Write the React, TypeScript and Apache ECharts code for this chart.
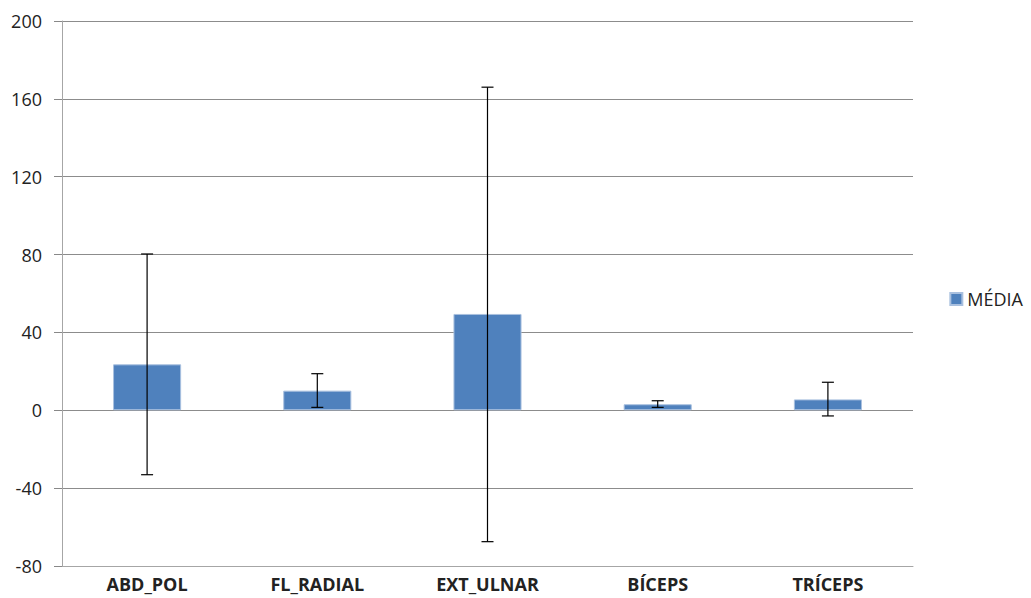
import React, { useEffect, useRef } from "react";
import * as echarts from "echarts";

const categories = ["ABD_POL", "FL_RADIAL", "EXT_ULNAR", "BÍCEPS", "TRÍCEPS"];
const means = [23.6, 10.1, 49.5, 3.1, 5.6];
const errLow = [-33.1, 1.5, -67.5, 1.5, -2.9];
const errHigh = [80.3, 18.8, 166, 4.9, 14.4];
const yTicks = { min: -80, max: 200, interval: 40 };

export default function App() {
  const ref = useRef<HTMLDivElement>(null);
  useEffect(() => {
    document.body.style.margin = "0";
    const chart = echarts.init(ref.current!, null, { renderer: "svg" });
    const errData = categories.map((_, i) => [i, errLow[i], errHigh[i]]);
    chart.setOption({
      animation: false,
      grid: { left: 62, right: 118, top: 21, bottom: 32, containLabel: false },
      legend: {
        right: 3,
        top: "middle",
        orient: "vertical",
        icon: "rect",
        itemWidth: 12,
        itemHeight: 12,
        itemGap: 6,
        data: ["MÉDIA"],
        textStyle: { fontFamily: "Open Sans", fontSize: 18, color: "#222" },
      },
      xAxis: {
        type: "category",
        data: categories,
        axisLine: { onZero: false, lineStyle: { color: "#a6a6a6" } },
        axisTick: { show: false },
        axisLabel: {
          margin: 8,
          fontFamily: "Open Sans",
          fontWeight: "bold",
          fontSize: 18,
          lineHeight: 20,
          color: "#222",
        },
      },
      yAxis: {
        type: "value",
        min: yTicks.min,
        max: yTicks.max,
        interval: yTicks.interval,
        axisLine: { show: true, lineStyle: { color: "#a6a6a6" } },
        axisTick: { show: true, length: 8, inside: false, lineStyle: { color: "#888" } },
        splitLine: { lineStyle: { color: "#8c8c8c" } },
        axisLabel: { margin: 20, fontFamily: "Open Sans", fontSize: 18, color: "#222" },
      },
      series: [
        {
          name: "MÉDIA",
          type: "bar",
          data: means,
          barWidth: "40%",
          itemStyle: { color: "#4f81bd", borderColor: "#a9c0df", borderWidth: 1 },
        },
        {
          name: "err",
          type: "custom",
          data: errData,
          z: 10,
          renderItem: (params: any, api: any) => {
            const x = api.value(0);
            const lo = api.coord([x, api.value(1)]);
            const hi = api.coord([x, api.value(2)]);
            const half = 6;
            const style = { stroke: "#000", lineWidth: 1.2 };
            return {
              type: "group",
              children: [
                { type: "line", shape: { x1: lo[0], y1: lo[1], x2: hi[0], y2: hi[1] }, style },
                { type: "line", shape: { x1: lo[0] - half, y1: lo[1], x2: lo[0] + half, y2: lo[1] }, style },
                { type: "line", shape: { x1: hi[0] - half, y1: hi[1], x2: hi[0] + half, y2: hi[1] }, style },
              ],
            };
          },
        },
      ],
    });
    return () => chart.dispose();
  }, []);
  return <div ref={ref} style={{ width: 1031, height: 598 }} />;
}
